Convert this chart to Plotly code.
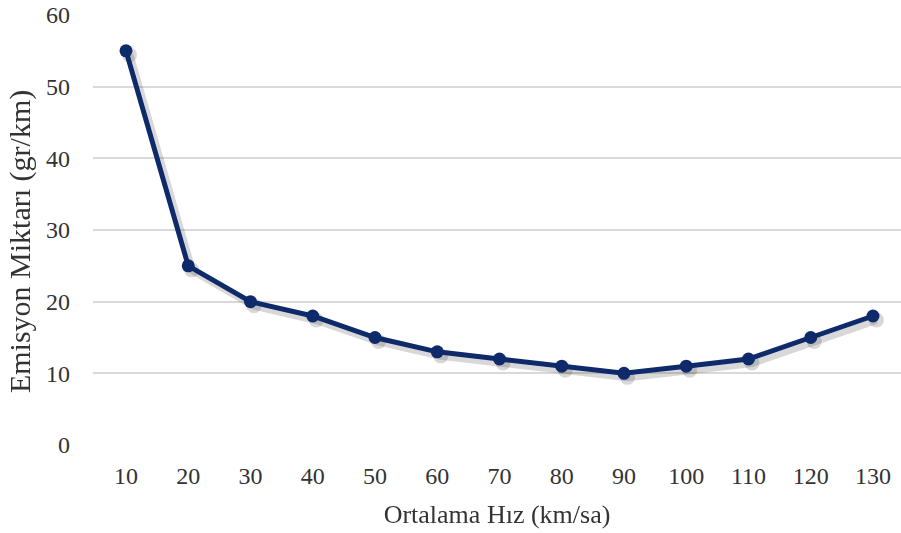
import plotly.graph_objects as go

speeds = ["10", "20", "30", "40", "50", "60", "70", "80", "90", "100", "110", "120", "130"]
emissions = [55, 25, 20, 18, 15, 13, 12, 11, 10, 11, 12, 15, 18]
y_ticks = [0, 10, 20, 30, 40, 50, 60]

navy = "#0f2a6a"
font_family = "Liberation Serif, Times New Roman, serif"

x_range = [-0.53, 12.45]
y_range = [0, 60]
# soft drop shadow: same series drawn on an overlay axis pair offset a few pixels
dx = 3.5 / 62.25
dy = 4 / 7.17

fig = go.Figure()
# anchors the base axes (ticks and grid)
fig.add_trace(go.Scatter(
    x=speeds, y=emissions, mode="markers", opacity=0,
    showlegend=False, hoverinfo="skip",
))
fig.add_trace(go.Scatter(
    x=speeds, y=emissions, mode="lines+markers", xaxis="x2", yaxis="y2",
    line=dict(color="rgba(60,60,60,0.2)", width=8),
    marker=dict(color="rgba(60,60,60,0.2)", size=15),
    showlegend=False, hoverinfo="skip",
))
fig.add_trace(go.Scatter(
    x=speeds, y=emissions, mode="lines+markers", xaxis="x3", yaxis="y3",
    line=dict(color=navy, width=5),
    marker=dict(color=navy, size=13),
    showlegend=False,
))

hidden = dict(visible=False, showgrid=False, zeroline=False)
fig.update_layout(
    width=901, height=533,
    margin=dict(l=93, r=0, t=15, b=88),
    paper_bgcolor="white", plot_bgcolor="white",
    font=dict(family=font_family, size=24, color="#333333"),
    xaxis=dict(
        type="category", range=x_range,
        showgrid=False, zeroline=False, showline=False, ticks="",
        ticklabelstandoff=14,
        title=dict(text="Ortalama Hız (km/sa)", font=dict(size=26), standoff=16),
    ),
    yaxis=dict(
        range=y_range, tickvals=y_ticks,
        showgrid=True, gridcolor="#d9d9d9", gridwidth=1.5,
        zeroline=False, showline=False, ticks="",
        ticklabelstandoff=22,
    ),
    xaxis2=dict(type="category", overlaying="x",
                range=[x_range[0] - dx, x_range[1] - dx], **hidden),
    yaxis2=dict(overlaying="y", range=[y_range[0] + dy, y_range[1] + dy], **hidden),
    xaxis3=dict(type="category", overlaying="x", range=x_range, **hidden),
    yaxis3=dict(overlaying="y", range=y_range, **hidden),
    annotations=[dict(
        text="Emisyon Miktarı (gr/km)", textangle=-90,
        xref="paper", yref="paper", x=-0.0903, y=0.472,
        xanchor="center", yanchor="middle", showarrow=False,
        font=dict(size=30),
    )],
)

fig.write_html("out.html")
